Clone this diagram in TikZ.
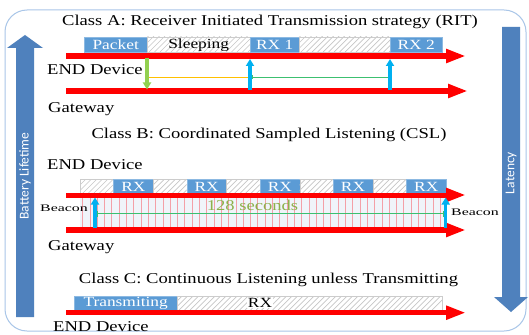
\documentclass[tikz,border=0pt]{standalone}
\usepackage{fontspec}
\setmainfont{Liberation Serif}[FakeStretch=1.24]
\newfontfamily\calib{Carlito}
\usetikzlibrary{arrows.meta}
\definecolor{boxblue}{HTML}{5B9BD5}
\definecolor{bigblue}{HTML}{4F81BD}
\definecolor{framecol}{HTML}{A9C6E8}
\definecolor{cyanarr}{HTML}{00B0F0}
\definecolor{greenarr}{HTML}{92D050}
\definecolor{yellowln}{HTML}{FFC000}
\definecolor{greenln}{HTML}{3CC070}
\definecolor{secgreen}{HTML}{8DB04A}
\definecolor{pinkln}{HTML}{F4A0A8}
\definecolor{bandbg}{HTML}{F0F4FA}
\tikzset{
  lbl/.style={font=\fontsize{15}{17}\selectfont, inner sep=0pt, anchor=base west},
  ttl/.style={font=\fontsize{15}{17}\selectfont, inner sep=0pt, anchor=base},
  bcn/.style={font=\fontsize{10}{12}\selectfont, inner sep=0pt, anchor=base west},
  bluebox/.style={fill=boxblue, draw=boxblue!70!white, text=white, inner sep=0pt,
    font=\fontsize{14}{16}\selectfont, anchor=north west},
  hatchbox/.style={draw=gray!40, inner sep=0pt, anchor=north west},
  hatchline/.style={draw=gray!45, line width=0.7pt},
  redarr/.style={draw=red, line width=5.5pt, -{Triangle[length=20pt,width=13pt]}},
  uparr/.style={draw=cyanarr, line width=3.2pt, -{Triangle[length=7pt,width=8pt]}},
  dnarr/.style={draw=greenarr, line width=3.2pt, -{Triangle[length=7pt,width=8pt]}},
  bigarrow/.style={fill=bigblue},
  sidetxt/.style={text=white, font=\calib\fontsize{13.5}{15}\selectfont, rotate=90, inner sep=0pt},
}
% hatch: x1, ytop, x2, ybottom
\newcommand\myhatch[4]{%
  \begin{scope}
    \clip ({#1},{#2}) rectangle ({#3},{#4});
    \foreach \j in {0,...,50} {
      \draw[hatchline] ({(#1)+\j*5.5-20},{#4}) -- ({(#1)+\j*5.5+20},{(#4)-40});
    }
  \end{scope}%
}
\begin{document}
\begin{tikzpicture}[x=1pt,y=-1pt]
\useasboundingbox (0,0) rectangle (529,334);
\fill[white] (0,0) rectangle (529,334);
% frame
\draw[framecol, line width=1pt, rounded corners=22pt] (5,10) rectangle (526,331);

% side arrows
\fill[bigarrow] (16,317) -- (16,48) -- (7,48) -- (25,35) -- (43,48) -- (34,48) -- (34,317) -- cycle;
\node[sidetxt] (batt) at (25,176) {Battery Lifetime};
\fill[bigarrow] (502,27) -- (502,297) -- (494,297) -- (511,312) -- (528,297) -- (520,297) -- (520,27) -- cycle;
\node[sidetxt] (lat) at (511,173) {Latency};

% ---------------- Class A
\node[ttl] (titleA) at (270,26) {Class A: Receiver Initiated Transmission strategy (RIT)};
\myhatch{147}{37}{250}{52}
\myhatch{299}{37}{390}{52}
\node[bluebox, minimum width=63pt, minimum height=15pt] (pkt) at (84,37) {Packet};
\node[hatchbox, minimum width=103pt, minimum height=15pt, font=\fontsize{14}{16}\selectfont] (sleep) at (147,37) {Sleeping};
\node[bluebox, minimum width=49pt, minimum height=15pt] (rx1) at (250,37) {RX 1};
\node[hatchbox, minimum width=91pt, minimum height=15pt] (hA) at (299,37) {};
\node[bluebox, minimum width=52pt, minimum height=15pt] (rx2) at (390,37) {RX 2};

\coordinate (rAts) at (66,56); \coordinate (rAte) at (466,56);
\coordinate (rAbs) at (66,91); \coordinate (rAbe) at (468,91);
\draw[redarr] (rAts) -- (rAte);
\draw[redarr, line width=6pt] (rAbs) -- (rAbe);

\node[lbl] (endA) at (47,75) {END Device};
\node[lbl] (gwA) at (48,112) {Gateway};

\coordinate (gA1) at (147,58); \coordinate (gA2) at (147,89.5);
\coordinate (yA1) at (148,77); \coordinate (yA2) at (250,77);
\coordinate (lA1) at (252,77); \coordinate (lA2) at (388,77);
\coordinate (cA1b) at (250,90); \coordinate (cA1t) at (250,59);
\coordinate (cA2b) at (390,90); \coordinate (cA2t) at (390,59);
\draw[yellowln, line width=0.8pt] (yA1) -- (yA2);
\draw[greenln, line width=0.8pt] (lA1) -- (lA2);
\draw[greenln, line width=0.8pt] (252,75) -- (252,79);
\draw[dnarr] (gA1) -- (gA2);
\draw[uparr] (cA1b) -- (cA1t);
\draw[uparr] (cA2b) -- (cA2t);

% ---------------- Class B
\node[ttl] (titleB) at (269,138) {Class B: Coordinated Sampled Listening (CSL)};
\node[lbl] (endB) at (47,169) {END Device};

\fill[bandbg] (80,197) rectangle (446,228);
\foreach \i in {0,...,49} {
  \draw[pinkln, line width=0.5pt] ({82.5+\i*7.3},197) -- ({82.5+\i*7.3},227);
}

\foreach \k/\nm in {0/a,1/b,2/c,3/d,4/e} {
  \myhatch{80+\k*73.2}{179}{113.3+\k*73.2}{194}
  \node[hatchbox, minimum width=33.3pt, minimum height=15pt] (hB\nm) at ({80+\k*73.2},179) {};
  \node[bluebox, minimum width=39.9pt, minimum height=15pt] (rxB\nm) at ({113.3+\k*73.2},179) {RX};
}

\coordinate (rBts) at (66,195); \coordinate (rBte) at (466,195);
\coordinate (rBbs) at (66,230); \coordinate (rBbe) at (466,230);
\draw[redarr, line width=5pt] (rBts) -- (rBte);
\draw[redarr, line width=6pt] (rBbs) -- (rBbe);

\coordinate (gB1) at (97,213.3); \coordinate (gB2) at (443,213.3);
\draw[greenln, line width=0.8pt] (gB1) -- (gB2);
\draw[greenln, line width=0.8pt] (97,211) -- (97,217);
\draw[greenln, line width=0.8pt] (443,211) -- (443,217);
\node[ttl, text=secgreen] (sec) at (252.5,210.7) {128 seconds};

\coordinate (cB1b) at (95,228); \coordinate (cB1t) at (95,197.5);
\coordinate (cB2b) at (445.7,228); \coordinate (cB2t) at (445.7,197.5);
\draw[uparr] (cB1b) -- (cB1t);
\draw[uparr] (cB2b) -- (cB2t);

\node[bcn] (bcnL) at (40,211.7) {\scalebox{1.28}[1]{Beacon}};
\node[bcn] (bcnR) at (451,215) {\scalebox{1.28}[1]{Beacon}};
\node[lbl] (gwB) at (48,250.7) {Gateway};

% ---------------- Class C
\node[ttl] (titleC) at (268.5,283.3) {Class C: Continuous Listening unless Transmitting};
\myhatch{177}{296}{442}{310}
\node[bluebox, minimum width=103pt, minimum height=14pt] (tx) at (74,296) {Transmiting};
\node[hatchbox, minimum width=265pt, minimum height=14pt] (rxC) at (177,296) {};
\node[font=\fontsize{14}{16}\selectfont, inner sep=0pt, fill=white, inner xsep=1pt] (rxCl) at (260,303) {RX};
\coordinate (rCs) at (66,312.7); \coordinate (rCe) at (466,312.7);
\draw[redarr] (rCs) -- (rCe);
\node[lbl] (endC) at (53,331.7) {END Device};
\end{tikzpicture}
\end{document}
